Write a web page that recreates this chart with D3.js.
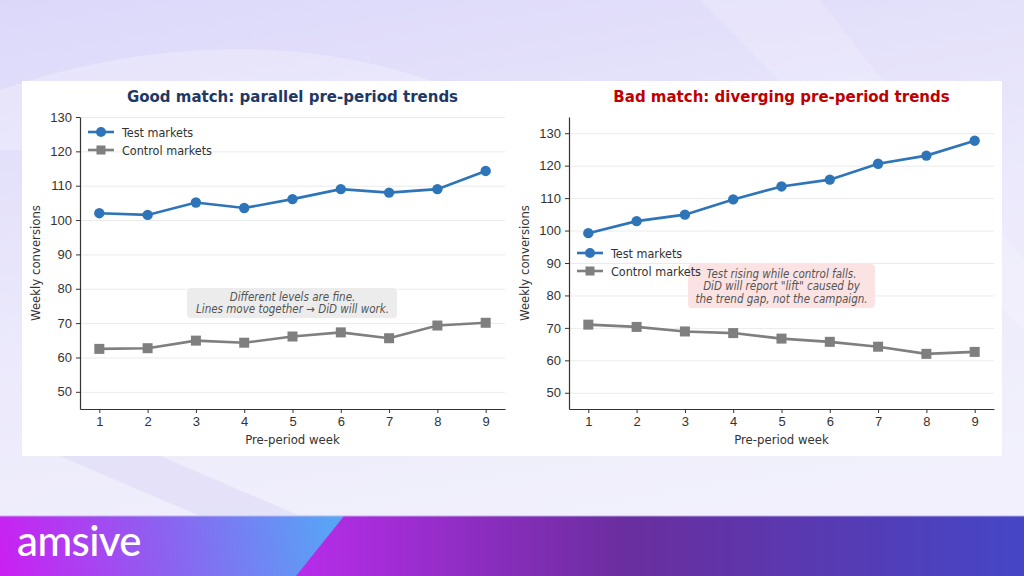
<!DOCTYPE html>
<html>
<head>
<meta charset="utf-8">
<script src="https://cdn.jsdelivr.net/npm/d3@7"></script>
<style>
  html, body { margin: 0; padding: 0; }
  body { width: 1024px; height: 576px; overflow: hidden; }
  svg { display: block; font-family: "DejaVu Sans Condensed", "DejaVu Sans", sans-serif; font-stretch: condensed; }
</style>
</head>
<body>
<svg id="svg" width="1024" height="576"></svg>
<script>
var weeks = [1, 2, 3, 4, 5, 6, 7, 8, 9];
var goodTest = [102.0, 101.5, 105.1, 103.5, 106.1, 109.0, 108.0, 109.0, 114.3];
var goodControl = [62.5, 62.7, 64.9, 64.3, 66.1, 67.3, 65.6, 69.3, 70.1];
var badTest = [99.2, 102.9, 104.9, 109.6, 113.6, 115.7, 120.6, 123.1, 127.7];
var badControl = [71.0, 70.3, 68.9, 68.4, 66.7, 65.7, 64.2, 62.0, 62.6];
var yTicks = [50, 60, 70, 80, 90, 100, 110, 120, 130];
var seriesNames = ["Test markets", "Control markets"];
var goodNote = ["Different levels are fine.", "Lines move together \u2192 DiD will work."];
var badNote = ["Test rising while control falls.", "DiD will report \"lift\" caused by", "the trend gap, not the campaign."];

var svg = d3.select("#svg");
var defs = svg.append("defs");

// slide background
var bg = defs.append("linearGradient").attr("id", "bg")
  .attr("x1", 0).attr("y1", 0).attr("x2", 0.3).attr("y2", 1);
bg.append("stop").attr("offset", 0).attr("stop-color", "#dcd8fa");
bg.append("stop").attr("offset", 0.55).attr("stop-color", "#ebe9fb");
bg.append("stop").attr("offset", 1).attr("stop-color", "#f1f0fc");
svg.append("rect").attr("width", 1024).attr("height", 576).attr("fill", "url(#bg)");
svg.append("path").attr("d", "M0,90 C200,20 420,40 560,150 L0,150 Z")
  .attr("fill", "#ffffff").attr("opacity", 0.25);
svg.append("path").attr("d", "M700,0 L820,0 L1024,260 L1024,330 Z")
  .attr("fill", "#ffffff").attr("opacity", 0.18);
svg.append("path").attr("d", "M60,456 L160,456 L300,516 L200,516 Z")
  .attr("fill", "#d9d6f6").attr("opacity", 0.5);

// footer band
var fr = defs.append("linearGradient").attr("id", "footR")
  .attr("gradientUnits", "userSpaceOnUse")
  .attr("x1", 296).attr("y1", 0).attr("x2", 1024).attr("y2", 0);
fr.append("stop").attr("offset", 0).attr("stop-color", "#b82ceb");
fr.append("stop").attr("offset", 0.45).attr("stop-color", "#6a2e9e");
fr.append("stop").attr("offset", 1).attr("stop-color", "#4546c6");
var fl = defs.append("linearGradient").attr("id", "footL")
  .attr("gradientUnits", "userSpaceOnUse")
  .attr("x1", 0).attr("y1", 576).attr("x2", 330).attr("y2", 516);
fl.append("stop").attr("offset", 0).attr("stop-color", "#cb1ff2");
fl.append("stop").attr("offset", 0.5).attr("stop-color", "#8c62f0");
fl.append("stop").attr("offset", 1).attr("stop-color", "#58a4f6");
svg.append("rect").attr("x", 0).attr("y", 516).attr("width", 1024).attr("height", 60).attr("fill", "url(#footR)");
svg.append("path").attr("d", "M0,516 L344,516 L296,576 L0,576 Z").attr("fill", "url(#footL)");
svg.append("rect").attr("x", 0).attr("y", 515).attr("width", 1024).attr("height", 1.5)
  .attr("fill", "#cfc6f5").attr("opacity", 0.8);
svg.append("text").attr("x", 17).attr("y", 556)
  .attr("fill", "#ffffff")
  .style("font-family", "Lato, 'Open Sans', sans-serif")
  .style("font-stretch", "normal")
  .style("font-size", "42px").style("font-weight", 500)
  .style("letter-spacing", "-0.6px")
  .text("amsive");

// white chart card
svg.append("rect").attr("x", 22).attr("y", 81).attr("width", 980).attr("height", 375).attr("fill", "#ffffff");

function drawPanel(cfg) {
  var x = d3.scaleLinear().domain([0.6, 9.4]).range([cfg.left, cfg.right]);
  var y = d3.scaleLinear().domain(cfg.yDomain).range([409, 117]);
  var g = svg.append("g");

  // grid
  g.append("g")
    .attr("transform", "translate(" + cfg.left + ",0)")
    .call(d3.axisLeft(y).tickValues(yTicks).tickSize(-(cfg.right - cfg.left)).tickFormat(""))
    .call(function (s) {
      s.select(".domain").remove();
      s.selectAll("line").attr("stroke", "#ebebeb").attr("stroke-width", 1);
    });

  // axes
  g.append("g")
    .attr("transform", "translate(0,409)")
    .call(d3.axisBottom(x).tickValues(weeks).tickSize(4).tickPadding(4).tickSizeOuter(0))
    .call(function (s) {
      s.select(".domain").attr("stroke", "#333").attr("stroke-width", 1.2);
      s.selectAll("line").attr("stroke", "#333");
      s.selectAll("text").attr("fill", "#333").style("font-size", "13px").style("font-family", null);
    });
  g.append("g")
    .attr("transform", "translate(" + cfg.left + ",0)")
    .call(d3.axisLeft(y).tickValues(yTicks).tickSize(4).tickPadding(4).tickSizeOuter(0))
    .call(function (s) {
      s.select(".domain").attr("stroke", "#333").attr("stroke-width", 1.2);
      s.selectAll("line").attr("stroke", "#333");
      s.selectAll("text").attr("fill", "#333").style("font-size", "13px").style("font-family", null);
    });

  // titles and labels
  var mid = (cfg.left + cfg.right) / 2;
  g.append("text").attr("x", mid).attr("y", 102).attr("text-anchor", "middle")
    .attr("fill", cfg.titleColor).style("font-size", "15px").style("font-weight", "bold")
    .style("font-family", "'DejaVu Sans', sans-serif").style("font-stretch", "normal")
    .text(cfg.title);
  g.append("text").attr("x", mid).attr("y", 444).attr("text-anchor", "middle")
    .attr("fill", "#333").style("font-size", "13px").text("Pre-period week");
  g.append("text").attr("transform", "translate(" + (cfg.left - 40) + ",263) rotate(-90)")
    .attr("text-anchor", "middle").attr("fill", "#333").style("font-size", "13px")
    .text("Weekly conversions");

  // annotation box
  var note = g.append("g");
  var lineH = 12.5;
  var top = cfg.noteY - (cfg.note.length - 1) * lineH / 2;
  note.append("rect")
    .attr("x", cfg.noteBox[0]).attr("y", cfg.noteBox[1])
    .attr("width", cfg.noteBox[2]).attr("height", cfg.noteBox[3])
    .attr("rx", 4).attr("fill", cfg.noteFill);
  note.selectAll("text").data(cfg.note).enter().append("text")
    .attr("x", mid).attr("y", function (d, i) { return top + i * lineH + 4; })
    .attr("text-anchor", "middle").attr("fill", "#555")
    .style("font-size", "11.5px").style("font-style", "italic")
    .text(function (d) { return d; });

  // lines
  var series = [
    { name: seriesNames[0], values: cfg.test, color: "#2e74b8", shape: "circle" },
    { name: seriesNames[1], values: cfg.control, color: "#7f7f7f", shape: "square" }
  ];
  var line = d3.line()
    .x(function (d, i) { return x(weeks[i]); })
    .y(function (d) { return y(d); });
  series.forEach(function (s) {
    g.append("path").attr("d", line(s.values)).attr("fill", "none")
      .attr("stroke", s.color).attr("stroke-width", 2.6);
    var pts = g.selectAll(null).data(s.values).enter();
    if (s.shape === "circle") {
      pts.append("circle")
        .attr("cx", function (d, i) { return x(weeks[i]); })
        .attr("cy", function (d) { return y(d); })
        .attr("r", 5.2).attr("fill", s.color);
    } else {
      pts.append("rect")
        .attr("x", function (d, i) { return x(weeks[i]) - 5; })
        .attr("y", function (d) { return y(d) - 5; })
        .attr("width", 10).attr("height", 10).attr("fill", s.color);
    }
  });

  // legend
  var leg = g.append("g").selectAll("g").data(series).enter().append("g")
    .attr("transform", function (d, i) {
      return "translate(" + cfg.legend[0] + "," + (cfg.legend[1] + i * 18) + ")";
    });
  leg.append("line").attr("x1", 0).attr("x2", 26).attr("stroke", function (d) { return d.color; })
    .attr("stroke-width", 2.6);
  leg.each(function (d) {
    var sel = d3.select(this);
    if (d.shape === "circle") sel.append("circle").attr("cx", 13).attr("r", 5).attr("fill", d.color);
    else sel.append("rect").attr("x", 8.5).attr("y", -4.5).attr("width", 9).attr("height", 9).attr("fill", d.color);
  });
  leg.append("text").attr("x", 34).attr("y", 4.5).attr("fill", "#333").style("font-size", "12.5px")
    .text(function (d) { return d.name; });
}

drawPanel({
  left: 80, right: 505, yDomain: [45, 130],
  title: "Good match: parallel pre-period trends", titleColor: "#1f3864",
  test: goodTest, control: goodControl,
  note: goodNote, noteY: 303, noteBox: [187, 288, 210, 30], noteFill: "#ececec",
  legend: [88, 132]
});
drawPanel({
  left: 569, right: 994, yDomain: [45, 135],
  title: "Bad match: diverging pre-period trends", titleColor: "#c00000",
  test: badTest, control: badControl,
  note: badNote, noteY: 286, noteBox: [688, 264, 187, 44], noteFill: "#fbe3e3",
  legend: [577, 253]
});
</script>
</body>
</html>
